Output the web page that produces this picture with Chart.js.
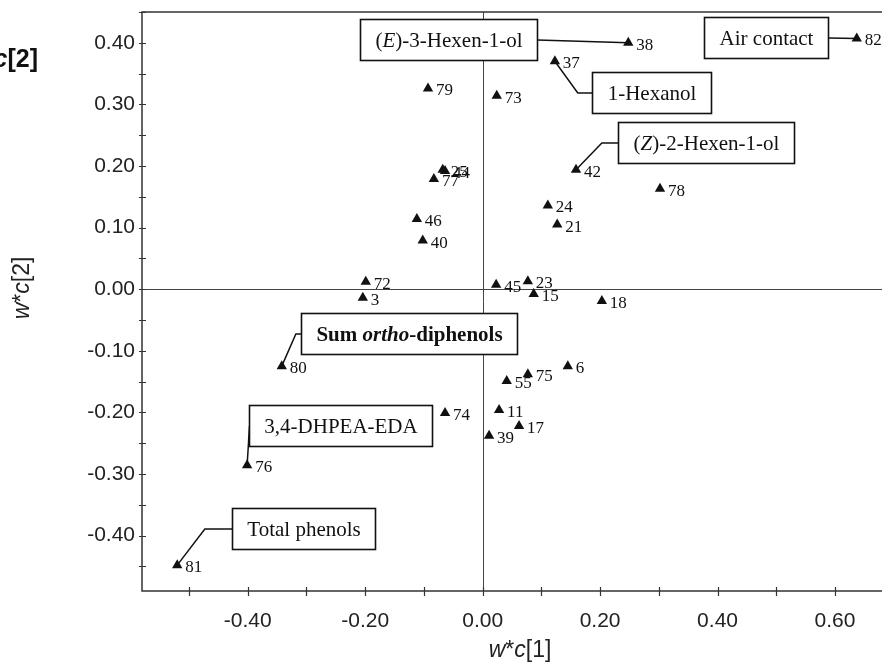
<!DOCTYPE html>
<html lang="en">
<head>
  <meta charset="UTF-8" />
  <title>w*c[1] / w*c[2] loading plot</title>
  <script src="https://cdn.jsdelivr.net/npm/chart.js"></script>
  <style>
    html, body { margin: 0; padding: 0; background: #fff; }
    #plot { display: block; }
  </style>
</head>
<body>
  <canvas id="plot" width="882" height="662"></canvas>

  <script>
    // point ids and loadings
    const pointIds = ['82', '38', '37', '79', '73', '25', '44', '77', '42', '24', '78', '46', '40', '21',
      '72', '3', '45', '23', '15', '18', '80', '6', '55', '75', '74', '11', '17', '39', '76', '81'];
    const wc1 = [0.637, 0.248, 0.123, -0.093, 0.024, -0.068, -0.064, -0.083, 0.159, 0.111, 0.302, -0.112, -0.102, 0.127,
      -0.199, -0.204, 0.023, 0.077, 0.087, 0.203, -0.342, 0.145, 0.041, 0.077, -0.064, 0.028, 0.062, 0.011, -0.401, -0.520];
    const wc2 = [0.407, 0.400, 0.370, 0.326, 0.314, 0.194, 0.192, 0.179, 0.194, 0.136, 0.163, 0.114, 0.079, 0.105,
      0.012, -0.014, 0.007, 0.013, -0.008, -0.019, -0.125, -0.125, -0.149, -0.138, -0.201, -0.196, -0.222, -0.238, -0.286, -0.448];

    const xTickLabels = ['-0.40', '-0.20', '0.00', '0.20', '0.40', '0.60'];
    const yTickLabels = ['-0.40', '-0.30', '-0.20', '-0.10', '0.00', '0.10', '0.20', '0.30', '0.40'];

    // callout boxes: text runs (r = roman, i = italic, b = bold, bi = bold italic)
    const callouts = [
      { runs: [['(', 'r'], ['E', 'i'], [')-3-Hexen-1-ol', 'r']], at: [-0.058, 0.4046], target: '38', side: 'right' },
      { runs: [['Air contact', 'r']], at: [0.482, 0.408], target: '82', side: 'right' },
      { runs: [['1-Hexanol', 'r']], at: [0.287, 0.320], target: '37', side: 'left', elbow: 0.162 },
      { runs: [['(', 'r'], ['Z', 'i'], [')-2-Hexen-1-ol', 'r']], at: [0.380, 0.2387], target: '42', side: 'left', elbow: 0.203 },
      { runs: [['Sum ', 'b'], ['ortho', 'bi'], ['-diphenols', 'b']], at: [-0.126, -0.0727], target: '80', side: 'left', elbow: -0.318 },
      { runs: [['3,4-DHPEA-EDA', 'r']], at: [-0.241, -0.2215], target: '76', side: 'left' },
      { runs: [['Total phenols', 'r']], at: [-0.305, -0.388], target: '81', side: 'left', elbow: -0.473 }
    ];

    const SANS = '"Liberation Sans", Arial, sans-serif';
    const SERIF = '"Liberation Serif", "Times New Roman", serif';

    function fmt(v) {
      return (Math.round(v * 100) / 100).toFixed(2);
    }

    function serifFont(style, size) {
      const s = { r: '', i: 'italic ', b: 'bold ', bi: 'italic bold ' }[style];
      return s + size + 'px ' + SERIF;
    }

    function drawRuns(ctx, runs, x, y, align) {
      let total = 0;
      runs.forEach(r => { ctx.font = r[1]; total += ctx.measureText(r[0]).width; });
      let cx = align === 'center' ? x - total / 2 : (align === 'right' ? x - total : x);
      ctx.textAlign = 'left';
      runs.forEach(r => {
        ctx.font = r[1];
        ctx.fillText(r[0], cx, y);
        cx += ctx.measureText(r[0]).width;
      });
      return total;
    }

    const points = pointIds.map((id, i) => ({ x: wc1[i], y: wc2[i], id }));

    const framePlugin = {
      id: 'frame',
      beforeDatasetsDraw(chart) {
        const { ctx, chartArea: a, scales: { x, y } } = chart;
        ctx.save();
        // zero lines
        ctx.strokeStyle = '#444';
        ctx.lineWidth = 1;
        ctx.beginPath();
        const x0 = Math.round(x.getPixelForValue(0)) + 0.5;
        const y0 = Math.round(y.getPixelForValue(0)) + 0.5;
        ctx.moveTo(x0, a.top); ctx.lineTo(x0, a.bottom);
        ctx.moveTo(a.left, y0); ctx.lineTo(a.right, y0);
        ctx.stroke();

        // frame: left, bottom, top
        ctx.strokeStyle = '#333';
        ctx.lineWidth = 1.5;
        ctx.beginPath();
        ctx.moveTo(a.right, a.top); ctx.lineTo(a.left, a.top);
        ctx.lineTo(a.left, a.bottom); ctx.lineTo(a.right, a.bottom);
        ctx.stroke();

        // tick marks crossing the axes
        ctx.lineWidth = 1.2;
        ctx.beginPath();
        y.ticks.forEach(t => {
          if (Math.abs(t.value * 20 - Math.round(t.value * 20)) > 1e-6) return;
          const py = Math.round(y.getPixelForValue(t.value)) + 0.5;
          ctx.moveTo(a.left - 3, py); ctx.lineTo(a.left + 4, py);
        });
        x.ticks.forEach(t => {
          if (Math.abs(t.value * 10 - Math.round(t.value * 10)) > 1e-6) return;
          const px = Math.round(x.getPixelForValue(t.value)) + 0.5;
          ctx.moveTo(px, a.bottom - 4); ctx.lineTo(px, a.bottom + 5);
        });
        ctx.stroke();

        // leader lines from callout boxes to their points
        ctx.strokeStyle = '#111';
        ctx.lineWidth = 1.5;
        callouts.forEach(c => {
          const idx = pointIds.indexOf(c.target);
          const box = boxGeometry(ctx, c, x, y);
          const sx = c.side === 'right' ? box.x + box.w : box.x;
          const sy = box.y + box.h / 2;
          ctx.beginPath();
          ctx.moveTo(sx, sy);
          if (c.elbow !== undefined) ctx.lineTo(x.getPixelForValue(c.elbow), sy);
          ctx.lineTo(x.getPixelForValue(wc1[idx]), y.getPixelForValue(wc2[idx]));
          ctx.stroke();
        });
        ctx.restore();
      },
      afterDatasetsDraw(chart) {
        const { ctx, scales: { x, y } } = chart;
        ctx.save();
        // point numbers
        ctx.fillStyle = '#111';
        ctx.font = '17px ' + SERIF;
        ctx.textAlign = 'left';
        ctx.textBaseline = 'alphabetic';
        chart.getDatasetMeta(0).data.forEach((el, i) => {
          ctx.fillText(pointIds[i], el.x + 8, el.y + 7);
        });

        // callout boxes
        callouts.forEach(c => {
          const box = boxGeometry(ctx, c, x, y);
          ctx.fillStyle = '#fff';
          ctx.fillRect(box.x, box.y, box.w, box.h);
          ctx.strokeStyle = '#111';
          ctx.lineWidth = 1.6;
          ctx.strokeRect(box.x, box.y, box.w, box.h);
          ctx.fillStyle = '#111';
          ctx.textBaseline = 'alphabetic';
          drawRuns(ctx, c.runs.map(r => [r[0], serifFont(r[1], 21)]), box.x + box.w / 2, box.y + box.h / 2 + 7, 'center');
        });
        ctx.restore();
      },
      afterDraw(chart) {
        const { ctx } = chart;
        ctx.save();
        ctx.fillStyle = '#222';
        ctx.textBaseline = 'alphabetic';
        // x axis title
        drawRuns(ctx, [['w', 'italic 23px ' + SANS], ['*', '23px ' + SANS], ['c', 'italic 23px ' + SANS], ['[1]', '23px ' + SANS]],
          520, 657, 'center');
        // y axis title
        ctx.save();
        ctx.translate(29, 288);
        ctx.rotate(-Math.PI / 2);
        drawRuns(ctx, [['w', 'italic 23px ' + SANS], ['*', '23px ' + SANS], ['c', 'italic 23px ' + SANS], ['[2]', '23px ' + SANS]],
          0, 0, 'center');
        ctx.restore();
        // clipped heading left over from the neighbouring panel
        ctx.fillStyle = '#111';
        drawRuns(ctx, [['w', 'italic bold 25px ' + SANS], ['*', 'bold 25px ' + SANS], ['c', 'italic bold 25px ' + SANS], ['[2]', 'bold 25px ' + SANS]],
          38, 67, 'right');
        ctx.restore();
      }
    };

    function boxGeometry(ctx, c, x, y) {
      let tw = 0;
      c.runs.forEach(r => { ctx.font = serifFont(r[1], 21); tw += ctx.measureText(r[0]).width; });
      const w = tw + 30, h = 41;
      const cx = x.getPixelForValue(c.at[0]);
      const cy = y.getPixelForValue(c.at[1]);
      return { x: Math.round(cx - w / 2) + 0.5, y: Math.round(cy - h / 2) + 0.5, w: Math.round(w), h };
    }

    new Chart(document.getElementById('plot').getContext('2d'), {
      type: 'scatter',
      data: {
        datasets: [{
          data: points,
          pointStyle: 'triangle',
          pointRadius: 6,
          pointHoverRadius: 6,
          backgroundColor: '#111',
          borderColor: '#111',
          borderWidth: 0
        }]
      },
      options: {
        responsive: false,
        animation: false,
        devicePixelRatio: 1,
        layout: { autoPadding: false, padding: { top: 12, right: 0, bottom: 0, left: 0 } },
        plugins: { legend: { display: false }, tooltip: { enabled: false } },
        scales: {
          x: {
            type: 'linear',
            min: -0.58,
            max: 0.68,
            grid: { display: false, drawTicks: false },
            border: { display: false },
            ticks: {
              stepSize: 0.1,
              includeBounds: false,
              autoSkip: false,
              maxRotation: 0,
              padding: 18,
              color: '#222',
              font: { family: SANS, size: 21 },
              callback: v => xTickLabels.includes(fmt(v)) ? fmt(v) : ''
            },
            afterFit: s => { s.height = 71; s.paddingLeft = 0; s.paddingRight = 0; }
          },
          y: {
            type: 'linear',
            min: -0.49,
            max: 0.45,
            grid: { display: false, drawTicks: false },
            border: { display: false },
            ticks: {
              stepSize: 0.05,
              includeBounds: false,
              autoSkip: false,
              padding: 7,
              color: '#222',
              font: { family: SANS, size: 21 },
              callback: v => yTickLabels.includes(fmt(v)) ? fmt(v) : ''
            },
            afterFit: s => { s.width = 142; s.paddingTop = 0; s.paddingBottom = 0; }
          }
        }
      },
      plugins: [framePlugin]
    });
  </script>
</body>
</html>
